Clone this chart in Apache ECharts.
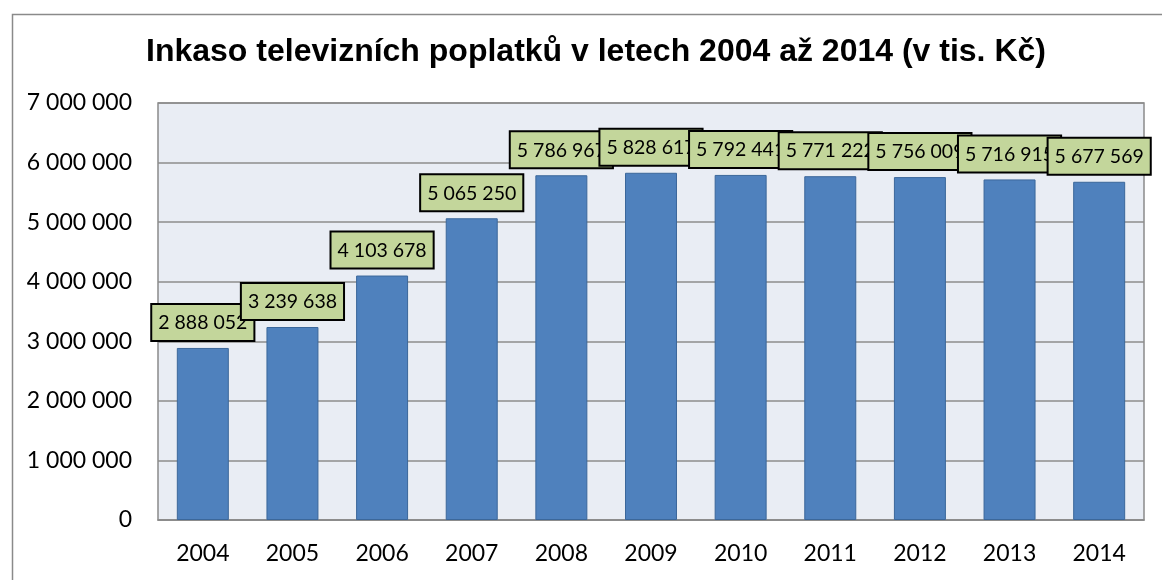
<!DOCTYPE html>
<html>
<head>
<meta charset="utf-8">
<script src="https://cdn.jsdelivr.net/npm/echarts@6/dist/echarts.min.js"></script>
<style>
html,body{margin:0;padding:0;background:#fff;}
#c{width:1162px;height:580px;}
</style>
</head>
<body>
<div id="c"></div>
<script>
const categories = ['2004','2005','2006','2007','2008','2009','2010','2011','2012','2013','2014'];
const values = [2888052, 3239638, 4103678, 5065250, 5786967, 5828617, 5792441, 5771222, 5756009, 5716915, 5677569];
const titleText = 'Inkaso televizních poplatků v letech 2004 až 2014 (v tis. Kč)';

function fmt(v){
  return String(v).replace(/\B(?=(\d{3})+(?!\d))/g, ' ');
}

const chart = echarts.init(document.getElementById('c'), null, {renderer:'canvas'});
chart.setOption({
  animation:false,
  backgroundColor:'#fff',
  graphic:[{
    type:'rect', left:10, top:12, silent:true, z:-10,
    shape:{width:1170, height:600},
    style:{fill:'none', stroke:'#8a8a8a', lineWidth:1.5}
  }],
  title:{
    text:titleText,
    left:591, top:31, textAlign:'center',
    textStyle:{fontFamily:'Liberation Sans, Arial', fontWeight:'bold', fontSize:32, color:'#000'}
  },
  grid:{
    left:158, right:18, top:103, bottom:60,
    show:true, backgroundColor:'#E9EDF4', borderColor:'#8A8A8A', borderWidth:1.5
  },
  xAxis:{
    type:'category', data:categories,
    axisLine:{show:true, lineStyle:{color:'#8A8A8A', width:1.5}},
    axisTick:{show:false},
    axisLabel:{fontFamily:'Lato', fontSize:23, color:'#000', margin:22}
  },
  yAxis:{
    type:'value', min:0, max:7000000, interval:1000000,
    axisLine:{show:false}, axisTick:{show:false},
    splitLine:{lineStyle:{color:'#8C8C8C', width:1.5}},
    axisLabel:{fontFamily:'Lato', fontSize:23, color:'#000', margin:26, formatter:fmt}
  },
  series:[{
    type:'bar', data:values, barCategoryGap:'42%',
    itemStyle:{color:'#4F81BD', borderColor:'#3B679A', borderWidth:1},
    label:{
      show:true, position:'top', distance:8,
      formatter:p=>fmt(p.value),
      fontFamily:'Lato', fontSize:19.5, color:'#000',
      backgroundColor:'#C3D69B', borderColor:'#000', borderWidth:2,
      padding:[8,6,7,6]
    },
    labelLayout:{hideOverlap:false}
  }]
});
</script>
</body>
</html>
